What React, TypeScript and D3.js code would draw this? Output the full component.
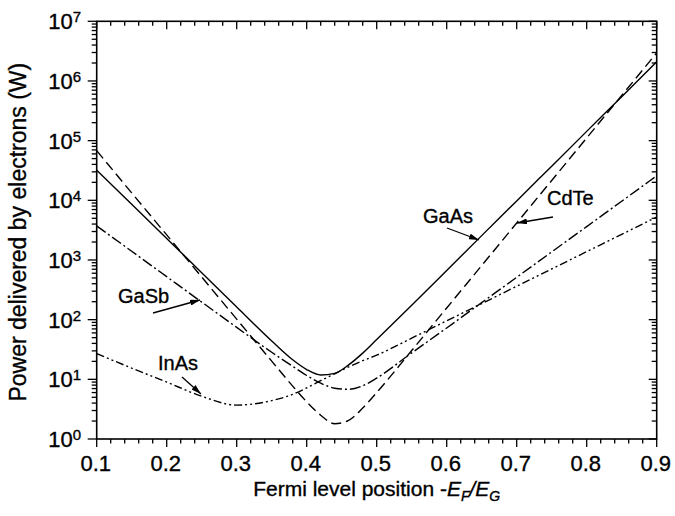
import React, { useEffect, useRef } from "react";
import * as d3 from "d3";

// Fermi level position -E_F/E_G (shared sample grid)
const fermi = [0.1, 0.15, 0.2, 0.25, 0.3, 0.35, 0.38, 0.4, 0.42, 0.44, 0.46, 0.48, 0.5, 0.55, 0.6, 0.65, 0.7, 0.75, 0.8, 0.85, 0.9];

// Power delivered by electrons (W) per material
const gaAs = [3.2e4, 8.6e3, 2.3e3, 610, 163, 44, 21.3, 14.6, 11.8, 12.6, 17.5, 27.5, 46.5, 175, 668, 2560, 9770, 3.74e4, 1.43e5, 5.46e5, 2.09e6];
const cdTe = [6.8e4, 1.33e4, 2630, 519, 102, 20.2, 7.7, 4.2, 2.5, 1.8, 2.05, 3.3, 6.0, 30.4, 157, 808, 4170, 2.15e4, 1.11e5, 5.72e5, 2.95e6];
const gaSb = [3720, 1400, 525, 197, 74.3, 28.4, 16.5, 11.6, 8.6, 7.1, 6.8, 7.8, 10.5, 27.7, 72.6, 193, 513, 1365, 3630, 9660, 2.57e4];
const inAs = [27, 15.4, 9.0, 5.2, 3.7, 4.4, 5.6, 7.2, 9.5, 12.4, 16.2, 20.5, 25.4, 49, 95.5, 186, 363, 708, 1380, 2690, 5250];

const seriesNames = ["GaAs", "CdTe", "GaSb", "InAs"];
const seriesValues = [gaAs, cdTe, gaSb, inAs];
const seriesDash = ["", "10,5", "11,3,2,3", "8,3,2,3,2,3"];

const xTicks = [0.1, 0.2, 0.3, 0.4, 0.5, 0.6, 0.7, 0.8, 0.9];
const yExponents = [0, 1, 2, 3, 4, 5, 6, 7];

// Annotation placements: label anchor and arrow (tail -> head)
const notes = [
  { text: "GaAs", x: 423, y: 223, arrow: [447, 228, 479, 240] },
  { text: "CdTe", x: 547, y: 205, arrow: [553, 217, 517, 223] },
  { text: "GaSb", x: 118, y: 303, arrow: [153, 313, 200, 300] },
  { text: "InAs", x: 158, y: 370, arrow: [182, 377, 201, 394] },
];

const W = 675;
const H = 516;
const FONT = "'Liberation Sans', Arial, Helvetica, sans-serif";

export default function App() {
  const ref = useRef<SVGSVGElement | null>(null);

  useEffect(() => {
    const svg = d3.select(ref.current);
    svg.selectAll("*").remove();

    const left = 96.7, right = 656.7, top = 21.3, bottom = 439;
    const x = d3.scaleLinear().domain([0.1, 0.9]).range([left, right]);
    const y = d3.scaleLog().domain([1, 1e7]).range([bottom, top]);

    const defs = svg.append("defs");
    defs.append("marker")
      .attr("id", "head")
      .attr("viewBox", "0 0 10 6")
      .attr("refX", 10).attr("refY", 3)
      .attr("markerWidth", 10).attr("markerHeight", 6)
      .attr("markerUnits", "userSpaceOnUse")
      .attr("orient", "auto")
      .append("path").attr("d", "M0,0 L10,3 L0,6 Z").attr("fill", "#000");

    defs.append("clipPath").attr("id", "plot")
      .append("rect").attr("x", left).attr("y", top)
      .attr("width", right - left).attr("height", bottom - top);

    // heavier text, like the printed figure
    const textStyle = (sel: any) =>
      sel.attr("font-family", FONT)
        .attr("fill", "#000")
        .attr("stroke", "#000")
        .attr("stroke-width", 0.35);

    // curves
    const line = d3.line<[number, number]>()
      .x((d) => x(d[0]))
      .y((d) => y(d[1]))
      .curve(d3.curveMonotoneX);

    const g = svg.append("g").attr("clip-path", "url(#plot)");
    seriesValues.forEach((vals, i) => {
      const pts = fermi.map((f, j) => [f, vals[j]] as [number, number]);
      g.append("path")
        .attr("d", line(pts))
        .attr("fill", "none")
        .attr("stroke", "#000")
        .attr("stroke-width", 1.4)
        .attr("stroke-dasharray", seriesDash[i] || null)
        .attr("data-name", seriesNames[i]);
    });

    // frame
    svg.append("rect")
      .attr("x", left).attr("y", top)
      .attr("width", right - left).attr("height", bottom - top)
      .attr("fill", "none").attr("stroke", "#000").attr("stroke-width", 1.6);

    const ticks = svg.append("g").attr("stroke", "#000").attr("stroke-width", 1.3);

    // x ticks: major every 0.1, minor every 0.02
    const minorX = d3.range(0, 41).map((i) => 0.1 + i * 0.02);
    minorX.forEach((v, i) => {
      const major = i % 5 === 0;
      const px = x(v);
      const len = major ? 8 : 4.5;
      ticks.append("line").attr("x1", px).attr("x2", px).attr("y1", bottom).attr("y2", bottom + len);
      ticks.append("line").attr("x1", px).attr("x2", px).attr("y1", top).attr("y2", top + len);
    });

    // y ticks: decades major, 2..9 minor
    yExponents.forEach((e) => {
      const py = y(Math.pow(10, e));
      ticks.append("line").attr("x1", left - 9).attr("x2", left).attr("y1", py).attr("y2", py);
      ticks.append("line").attr("x1", right - 8).attr("x2", right).attr("y1", py).attr("y2", py);
      if (e < 7) {
        for (let m = 2; m <= 9; m++) {
          const pm = y(m * Math.pow(10, e));
          ticks.append("line").attr("x1", left - 5).attr("x2", left).attr("y1", pm).attr("y2", pm);
          ticks.append("line").attr("x1", right - 5).attr("x2", right).attr("y1", pm).attr("y2", pm);
        }
      }
    });

    // x tick labels
    svg.append("g").selectAll("text").data(xTicks).join("text")
      .call(textStyle)
      .attr("x", (d) => x(d) - 1)
      .attr("y", 471)
      .attr("text-anchor", "middle")
      .attr("font-size", 22)
      .text((d) => d.toFixed(1));

    // y tick labels 10^n
    const yl = svg.append("g").selectAll("text").data(yExponents).join("text")
      .call(textStyle)
      .attr("x", 81)
      .attr("y", (d) => y(Math.pow(10, d)) + 8)
      .attr("text-anchor", "end")
      .attr("font-size", 22);
    yl.append("tspan").text("10");
    yl.append("tspan").attr("dy", -7).attr("font-size", 15).text((d) => String(d));

    // axis titles
    const xt = svg.append("text")
      .call(textStyle)
      .attr("x", (left + right) / 2)
      .attr("y", 496)
      .attr("text-anchor", "middle")
      .attr("font-size", 21);
    xt.append("tspan").text("Fermi level position -");
    xt.append("tspan").attr("font-style", "italic").text("E");
    xt.append("tspan").attr("font-style", "italic").attr("font-size", 14).attr("dy", 5).text("F");
    xt.append("tspan").attr("font-style", "italic").attr("dy", -5).text("/E");
    xt.append("tspan").attr("font-style", "italic").attr("font-size", 14).attr("dy", 5).text("G");

    svg.append("text")
      .call(textStyle)
      .attr("transform", `translate(26,${(top + bottom) / 2 + 2}) rotate(-90)`)
      .attr("text-anchor", "middle")
      .attr("font-size", 23)
      .text("Power delivered by electrons (W)");

    // annotations
    notes.forEach((n) => {
      svg.append("text")
        .call(textStyle)
        .attr("x", n.x).attr("y", n.y)
        .attr("font-size", 20)
        .text(n.text);
      const [x1, y1, x2, y2] = n.arrow;
      svg.append("line")
        .attr("x1", x1).attr("y1", y1).attr("x2", x2).attr("y2", y2)
        .attr("stroke", "#000").attr("stroke-width", 1.3)
        .attr("marker-end", "url(#head)");
    });
  }, []);

  return (
    <svg
      ref={ref}
      width={W}
      height={H}
      style={{ position: "absolute", left: 0, top: 0, background: "#fff" }}
    />
  );
}
